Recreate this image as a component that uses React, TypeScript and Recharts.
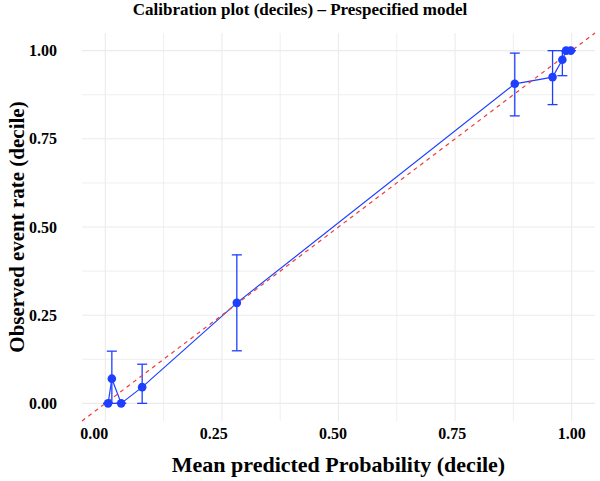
import { ComposedChart, Line, XAxis, YAxis, ReferenceLine, ErrorBar } from 'recharts'

// decile calibration: mean predicted vs observed event rate, with CI bounds
const predicted = [0.006, 0.014, 0.034, 0.079, 0.282, 0.878, 0.959, 0.98, 0.988, 0.998]
const observed = [0, 0.07, 0, 0.046, 0.285, 0.906, 0.925, 0.974, 1, 1]
const ciLower = [0, 0, 0, 0, 0.149, 0.815, 0.847, 0.929, 1, 1]
const ciUpper = [0, 0.148, 0, 0.111, 0.421, 0.993, 1, 1, 1, 1]

const majorTicks = [0, 0.25, 0.5, 0.75, 1]
const minorTicks = [0.125, 0.375, 0.625, 0.875]

const data = predicted.map((x, i) => ({
  x,
  y: observed[i],
  err: [observed[i] - ciLower[i], ciUpper[i] - observed[i]],
}))

const font = '"Liberation Serif", "Times New Roman", serif'
const blue = '#1f3fff'
const gridColor = '#ebebeb'

// x tick labels sit slightly left of their grid lines, more so toward 0
function XTick(props: any) {
  const { x, y, payload } = props
  const v = payload.value as number
  return (
    <text
      x={x - 11 * (1 - v)}
      y={y}
      dy="0.71em"
      textAnchor="middle"
      fill="#000"
      fontSize={16}
      fontWeight="bold"
      fontFamily={font}
    >
      {v.toFixed(2)}
    </text>
  )
}

export default function App() {
  return (
    <div style={{ position: 'absolute', left: 0, top: 0, width: 600, height: 481, fontFamily: font }}>
      <div
        style={{
          position: 'absolute',
          top: 0,
          left: 0,
          width: 600,
          textAlign: 'center',
          fontSize: 17,
          fontWeight: 'bold',
          lineHeight: '20px',
        }}
      >
        Calibration plot (deciles) – Prespecified model
      </div>
      <ComposedChart
        width={600}
        height={481}
        data={data}
        margin={{ top: 33, right: 5, bottom: 0, left: 0 }}
      >
        <XAxis
          dataKey="x"
          type="number"
          domain={[-0.05, 1.05]}
          ticks={majorTicks}
          axisLine={false}
          tickLine={false}
          tickSize={0}
          tickMargin={7}
          height={60}
          allowDataOverflow
          tick={<XTick />}
        />
        <YAxis
          type="number"
          domain={[-0.05, 1.05]}
          ticks={majorTicks}
          tickFormatter={(v: number) => v.toFixed(2)}
          axisLine={false}
          tickLine={false}
          tickSize={0}
          tickMargin={25}
          width={82}
          allowDataOverflow
          tick={{ fill: '#000', fontSize: 16, fontWeight: 'bold', fontFamily: font }}
        />
        {minorTicks.map((v) => (
          <ReferenceLine key={`mx${v}`} x={v} stroke={gridColor} strokeWidth={0.8} />
        ))}
        {minorTicks.map((v) => (
          <ReferenceLine key={`my${v}`} y={v} stroke={gridColor} strokeWidth={0.8} />
        ))}
        {majorTicks.map((v) => (
          <ReferenceLine key={`gx${v}`} x={v} stroke={gridColor} strokeWidth={1.1} />
        ))}
        {majorTicks.map((v) => (
          <ReferenceLine key={`gy${v}`} y={v} stroke={gridColor} strokeWidth={1.1} />
        ))}
        <Line
          dataKey="y"
          stroke={blue}
          strokeWidth={1.2}
          dot={{ r: 4.3, fill: blue, stroke: 'none' }}
          activeDot={false}
          isAnimationActive={false}
        >
          <ErrorBar dataKey="err" direction="y" width={5} stroke={blue} strokeWidth={1.3} />
        </Line>
        <ReferenceLine
          segment={[
            { x: -0.05, y: -0.05 },
            { x: 1.05, y: 1.05 },
          ]}
          stroke="#f03a3a"
          strokeWidth={1.2}
          strokeDasharray="4 4"
        />
      </ComposedChart>
      <div
        style={{
          position: 'absolute',
          top: 452,
          left: 82,
          width: 513,
          textAlign: 'center',
          fontSize: 22,
          fontWeight: 'bold',
          lineHeight: '26px',
        }}
      >
        Mean predicted Probability (decile)
      </div>
      <div
        style={{
          position: 'absolute',
          left: 17,
          top: 227,
          transform: 'translate(-50%, -50%) rotate(-90deg)',
          whiteSpace: 'nowrap',
          fontSize: 21,
          fontWeight: 'bold',
          lineHeight: '26px',
        }}
      >
        Observed event rate (decile)
      </div>
    </div>
  )
}
